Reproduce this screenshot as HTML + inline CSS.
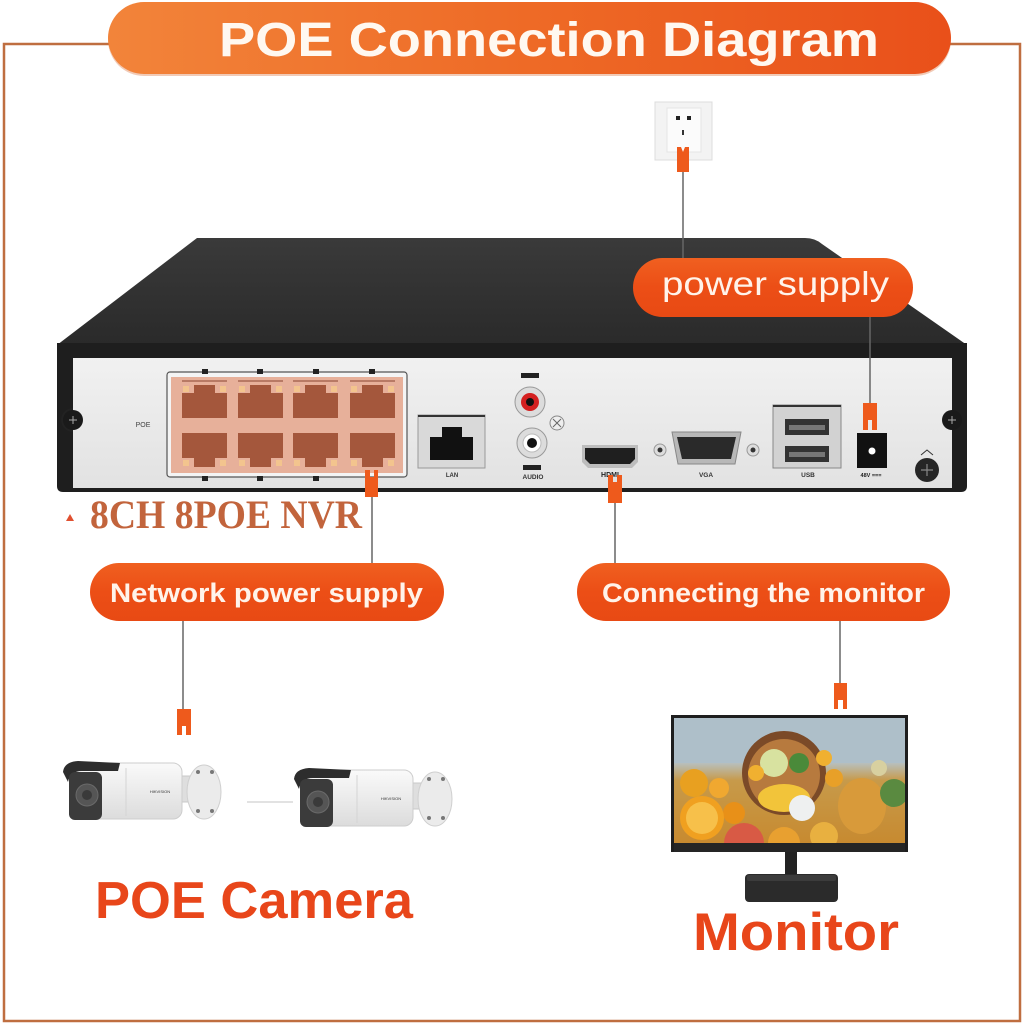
<!DOCTYPE html>
<html><head><meta charset="utf-8"><style>
html,body{margin:0;padding:0;background:#fff;width:1024px;height:1024px;overflow:hidden}
svg{display:block}
</style></head><body>
<svg width="1024" height="1024" viewBox="0 0 1024 1024" xmlns="http://www.w3.org/2000/svg" font-family="'Liberation Sans', sans-serif">
<defs>
<linearGradient id="tg" x1="0" x2="1" y1="0" y2="0"><stop offset="0" stop-color="#f2843a"/><stop offset="0.5" stop-color="#ee6a26"/><stop offset="1" stop-color="#e9501a"/></linearGradient>
<linearGradient id="pg" x1="0" x2="0" y1="0" y2="1"><stop offset="0" stop-color="#f06020"/><stop offset="0.5" stop-color="#ec4e16"/><stop offset="1" stop-color="#e84a14"/></linearGradient>
<linearGradient id="topg" x1="0" x2="0" y1="0" y2="1"><stop offset="0" stop-color="#3a3a3a"/><stop offset="1" stop-color="#2a2a2a"/></linearGradient>
<linearGradient id="panel" x1="0" x2="0" y1="0" y2="1"><stop offset="0" stop-color="#f1f1f1"/><stop offset="1" stop-color="#e2e2e2"/></linearGradient>
<linearGradient id="scr" x1="0" x2="0" y1="0" y2="1"><stop offset="0" stop-color="#a9bcc8"/><stop offset="0.35" stop-color="#b6c2c6"/><stop offset="0.5" stop-color="#c79a4a"/><stop offset="1" stop-color="#c78a30"/></linearGradient>
<linearGradient id="cam" x1="0" x2="0" y1="0" y2="1"><stop offset="0" stop-color="#fafafa"/><stop offset="1" stop-color="#dcdcdc"/></linearGradient>
</defs>

<!-- border -->
<rect x="4" y="44" width="1016" height="977" fill="none" stroke="#bf6e40" stroke-width="2.5"/>

<!-- title pill -->
<rect x="108" y="4" width="843" height="72" rx="36" fill="#d8682e" opacity="0.35"/>
<rect x="108" y="2" width="843" height="72" rx="36" fill="url(#tg)"/>
<text x="219" y="56" font-size="48" font-weight="bold" fill="#fff8f0" textLength="660" lengthAdjust="spacingAndGlyphs">POE Connection Diagram</text>

<!-- outlet -->
<rect x="655" y="102" width="57" height="58" fill="#f3f3f3" stroke="#dcdcdc"/>
<rect x="667" y="108" width="34" height="44" fill="#fbfbfb" stroke="#e4e4e4"/>
<rect x="676" y="116" width="4" height="4" fill="#222"/>
<rect x="687" y="116" width="4" height="4" fill="#222"/>
<rect x="682" y="130" width="2" height="5" fill="#333"/>
<line x1="683" y1="172" x2="683" y2="258" stroke="#666" stroke-width="1.5"/>
<path d="M677 147 L681 147 L683 152 L685 147 L689 147 L689 172 L677 172 Z" fill="#ee5a1c"/>

<!-- NVR top -->
<path d="M197 238 L805 238 Q815 238 822 244 L967 345 L57 345 Z" fill="url(#topg)"/>
<!-- front frame -->
<path d="M57 343 L967 343 L967 486 Q967 492 961 492 L63 492 Q57 492 57 486 Z" fill="#1e1e1e"/>
<rect x="73" y="358" width="879" height="130" fill="url(#panel)"/>
<!-- screws -->
<path d="M73 408 A12 12 0 0 0 73 432 Z" fill="#222"/>
<circle cx="73" cy="420" r="10" fill="#1a1a1a"/>
<path d="M69 420 H77 M73 416 V424" stroke="#aaa" stroke-width="1"/>
<circle cx="952" cy="420" r="10" fill="#1a1a1a"/>
<path d="M948 420 H956 M952 416 V424" stroke="#aaa" stroke-width="1"/>

<!-- POE ports -->
<text x="143" y="427" font-size="7" fill="#444" text-anchor="middle">POE</text>
<rect x="167" y="372" width="240" height="105" rx="3" fill="#f4f4f4" stroke="#555" stroke-width="1.2"/>
<rect x="171" y="377" width="232" height="96" fill="#e7b09a"/>
<g fill="#222">
<rect x="202" y="369" width="6" height="5"/><rect x="257" y="369" width="6" height="5"/><rect x="313" y="369" width="6" height="5"/><rect x="369" y="369" width="6" height="5"/>
<rect x="202" y="476" width="6" height="5"/><rect x="257" y="476" width="6" height="5"/><rect x="313" y="476" width="6" height="5"/>
</g>
<g id="ports">
<g fill="#a4573c">
<rect x="182" y="393" width="45" height="25"/><rect x="194" y="385" width="21" height="9"/>
<rect x="238" y="393" width="45" height="25"/><rect x="250" y="385" width="21" height="9"/>
<rect x="293" y="393" width="45" height="25"/><rect x="305" y="385" width="21" height="9"/>
<rect x="350" y="393" width="45" height="25"/><rect x="362" y="385" width="21" height="9"/>
<rect x="182" y="433" width="45" height="25"/><rect x="194" y="457" width="21" height="10"/>
<rect x="238" y="433" width="45" height="25"/><rect x="250" y="457" width="21" height="10"/>
<rect x="293" y="433" width="45" height="25"/><rect x="305" y="457" width="21" height="10"/>
<rect x="350" y="433" width="45" height="25"/><rect x="362" y="457" width="21" height="10"/>
</g>
<g fill="#f3c48e">
<rect x="183" y="386" width="6" height="6"/><rect x="220" y="386" width="6" height="6"/>
<rect x="239" y="386" width="6" height="6"/><rect x="276" y="386" width="6" height="6"/>
<rect x="294" y="386" width="6" height="6"/><rect x="331" y="386" width="6" height="6"/>
<rect x="351" y="386" width="6" height="6"/><rect x="388" y="386" width="6" height="6"/>
<rect x="183" y="460" width="6" height="6"/><rect x="220" y="460" width="6" height="6"/>
<rect x="239" y="460" width="6" height="6"/><rect x="276" y="460" width="6" height="6"/>
<rect x="294" y="460" width="6" height="6"/><rect x="331" y="460" width="6" height="6"/>
<rect x="351" y="460" width="6" height="6"/><rect x="388" y="460" width="6" height="6"/>
</g>
<g stroke="#8a4530" stroke-width="1">
<line x1="182" y1="381" x2="227" y2="381"/><line x1="238" y1="381" x2="283" y2="381"/><line x1="293" y1="381" x2="338" y2="381"/><line x1="350" y1="381" x2="395" y2="381"/>
</g>
</g>

<!-- LAN -->
<rect x="418" y="415" width="67" height="53" fill="#d9d9d9" stroke="#999"/>
<line x1="418" y1="416" x2="485" y2="416" stroke="#333" stroke-width="2"/>
<rect x="430" y="437" width="43" height="23" fill="#111"/>
<rect x="442" y="427" width="20" height="11" fill="#111"/>
<text x="452" y="477" font-size="6" fill="#333" text-anchor="middle" font-weight="bold">LAN</text>

<!-- audio -->
<rect x="521" y="373" width="18" height="5" fill="#222"/>
<circle cx="530" cy="402" r="15" fill="#dcdcdc" stroke="#999"/>
<circle cx="530" cy="402" r="9" fill="#d42020"/>
<circle cx="530" cy="402" r="4" fill="#111"/>
<circle cx="557" cy="423" r="7" fill="#eee" stroke="#888"/>
<path d="M553 419 L561 427 M561 419 L553 427" stroke="#666" stroke-width="1"/>
<circle cx="532" cy="443" r="15" fill="#dcdcdc" stroke="#999"/>
<circle cx="532" cy="443" r="9" fill="#fff" stroke="#bbb"/>
<circle cx="532" cy="443" r="5" fill="#111"/>
<rect x="523" y="465" width="18" height="5" fill="#222"/>
<text x="533" y="479" font-size="6.5" fill="#333" text-anchor="middle" font-weight="bold">AUDIO</text>

<!-- HDMI -->
<path d="M582 445 L638 445 L638 462 L632 468 L588 468 L582 462 Z" fill="#bdbdbd"/>
<path d="M585 448 L635 448 L635 459 L630 464 L590 464 L585 459 Z" fill="#1f1f1f"/>
<text x="610" y="477" font-size="7" fill="#222" text-anchor="middle" font-weight="bold">HDMI</text>
<line x1="615" y1="503" x2="615" y2="563" stroke="#666" stroke-width="1.5"/>
<path d="M608 475 L613 475 L613 482 L617 482 L617 475 L622 475 L622 503 L608 503 Z" fill="#ee5a1c"/>

<!-- VGA -->
<circle cx="660" cy="450" r="6" fill="#ddd" stroke="#999"/><circle cx="660" cy="450" r="2.5" fill="#333"/>
<circle cx="753" cy="450" r="6" fill="#ddd" stroke="#999"/><circle cx="753" cy="450" r="2.5" fill="#333"/>
<path d="M672 432 L741 432 L735 464 L678 464 Z" fill="#b8b8b8" stroke="#888"/>
<path d="M677 437 L736 437 L731 459 L682 459 Z" fill="#2a2a2a"/>
<text x="706" y="477" font-size="6.5" fill="#333" text-anchor="middle" font-weight="bold">VGA</text>

<!-- USB -->
<rect x="773" y="405" width="68" height="63" fill="#d2d2d2" stroke="#888"/>
<line x1="773" y1="406" x2="841" y2="406" stroke="#333" stroke-width="2"/>
<rect x="785" y="419" width="44" height="16" fill="#333"/><rect x="789" y="425" width="36" height="5" fill="#777"/>
<rect x="785" y="446" width="44" height="16" fill="#333"/><rect x="789" y="452" width="36" height="5" fill="#777"/>
<text x="808" y="477" font-size="6.5" fill="#333" text-anchor="middle" font-weight="bold">USB</text>

<!-- DC -->
<rect x="857" y="433" width="30" height="35" fill="#111"/>
<circle cx="872" cy="451" r="3.5" fill="#fff"/>
<text x="871" y="477" font-size="5.5" fill="#222" text-anchor="middle" font-weight="bold">48V ===</text>
<line x1="870" y1="317" x2="870" y2="403" stroke="#666" stroke-width="1.5"/>
<path d="M863 403 L877 403 L877 430 L872 430 L872 420 L868 420 L868 430 L863 430 Z" fill="#ee5a1c"/>

<!-- ground -->
<path d="M921 455 L927 450 L933 455" stroke="#333" fill="none" stroke-width="1"/>
<circle cx="927" cy="470" r="12" fill="#262626"/>
<path d="M921 470 H933 M927 464 V476" stroke="#888" stroke-width="1.2"/>

<!-- power supply pill -->
<rect x="633" y="258" width="280" height="59" rx="29.5" fill="url(#pg)"/>
<text x="662" y="295" font-size="33" fill="#fff3ea" textLength="227" lengthAdjust="spacingAndGlyphs">power supply</text>
<line x1="683" y1="238" x2="683" y2="258" stroke="#666" stroke-width="1.5"/>

<!-- 8CH label -->
<path d="M66 521 L70 514 L74 521 Z" fill="#e05030"/>
<text x="90" y="528" font-family="'Liberation Serif', serif" font-size="40" font-weight="bold" fill="#c2643c" textLength="272" lengthAdjust="spacingAndGlyphs">8CH 8POE NVR</text>

<!-- POE plug & line -->
<line x1="372" y1="497" x2="372" y2="563" stroke="#666" stroke-width="1.5"/>
<path d="M365 470 L370 470 L370 477 L374 477 L374 470 L378 470 L378 497 L365 497 Z" fill="#ee5a1c"/>

<!-- Network pill -->
<rect x="90" y="563" width="354" height="58" rx="29" fill="url(#pg)"/>
<text x="110" y="602" font-size="27" font-weight="bold" fill="#fff3ea" textLength="313" lengthAdjust="spacingAndGlyphs">Network power supply</text>
<line x1="183" y1="621" x2="183" y2="709" stroke="#666" stroke-width="1.5"/>
<path d="M177 709 L191 709 L191 735 L186 735 L186 726 L182 726 L182 735 L177 735 Z" fill="#ee5a1c"/>

<!-- Connecting pill -->
<rect x="577" y="563" width="373" height="58" rx="29" fill="url(#pg)"/>
<text x="602" y="602" font-size="27" font-weight="bold" fill="#fff3ea" textLength="323" lengthAdjust="spacingAndGlyphs">Connecting the monitor</text>
<line x1="840" y1="621" x2="840" y2="683" stroke="#666" stroke-width="1.5"/>
<path d="M834 683 L847 683 L847 709 L843 709 L843 700 L838 700 L838 709 L834 709 Z" fill="#ee5a1c"/>

<!-- cameras -->
<g id="cam1">
<rect x="182" y="776" width="14" height="26" fill="#dedede" stroke="#c8c8c8"/>
<ellipse cx="204" cy="792" rx="17" ry="27" fill="#ebebeb" stroke="#cfcfcf"/>
<circle cx="198" cy="772" r="2" fill="#777"/><circle cx="212" cy="772" r="2" fill="#777"/>
<circle cx="198" cy="811" r="2" fill="#777"/><circle cx="212" cy="811" r="2" fill="#777"/>
<rect x="70" y="763" width="112" height="56" rx="9" fill="url(#cam)" stroke="#cdcdcd"/>
<line x1="126" y1="768" x2="126" y2="816" stroke="#d4d4d4"/>
<path d="M63 772 Q64 762 78 761 L120 763 L118 771 L82 771 Q70 771 68 782 Z" fill="#2d2d2d"/>
<rect x="69" y="772" width="33" height="48" rx="6" fill="#3b3b3b"/>
<circle cx="87" cy="795" r="11" fill="#555" stroke="#6a6a6a"/>
<circle cx="87" cy="795" r="5" fill="#3a3a3a"/>
<text x="160" y="793" font-size="4" fill="#333" text-anchor="middle">HIKVISION</text>
</g>
<line x1="247" y1="802" x2="293" y2="802" stroke="#c4c4c4" stroke-width="1"/>
<g transform="translate(231 7)">
<rect x="182" y="776" width="14" height="26" fill="#dedede" stroke="#c8c8c8"/>
<ellipse cx="204" cy="792" rx="17" ry="27" fill="#ebebeb" stroke="#cfcfcf"/>
<circle cx="198" cy="772" r="2" fill="#777"/><circle cx="212" cy="772" r="2" fill="#777"/>
<circle cx="198" cy="811" r="2" fill="#777"/><circle cx="212" cy="811" r="2" fill="#777"/>
<rect x="70" y="763" width="112" height="56" rx="9" fill="url(#cam)" stroke="#cdcdcd"/>
<line x1="126" y1="768" x2="126" y2="816" stroke="#d4d4d4"/>
<path d="M63 772 Q64 762 78 761 L120 763 L118 771 L82 771 Q70 771 68 782 Z" fill="#2d2d2d"/>
<rect x="69" y="772" width="33" height="48" rx="6" fill="#3b3b3b"/>
<circle cx="87" cy="795" r="11" fill="#555" stroke="#6a6a6a"/>
<circle cx="87" cy="795" r="5" fill="#3a3a3a"/>
<text x="160" y="793" font-size="4" fill="#333" text-anchor="middle">HIKVISION</text>
</g>

<!-- monitor -->
<rect x="785" y="850" width="12" height="28" fill="#222"/>
<rect x="745" y="874" width="93" height="28" rx="4" fill="#2b2b2b"/>
<rect x="747" y="875" width="89" height="6" rx="2" fill="#3c3c3c"/>
<rect x="671" y="715" width="237" height="137" fill="#1e1e1e"/>
<svg x="674" y="718" width="231" height="125" viewBox="0 0 231 125">
<rect width="231" height="125" fill="url(#scr)"/>
<rect y="0" width="231" height="45" fill="#aebfc9"/>
<circle cx="110" cy="55" r="42" fill="#7b4a28"/>
<circle cx="110" cy="57" r="36" fill="#b77a3e"/>
<circle cx="100" cy="45" r="14" fill="#d8e2a0"/>
<circle cx="125" cy="45" r="10" fill="#4a8a3a"/>
<ellipse cx="110" cy="80" rx="26" ry="14" fill="#f2c43a"/>
<circle cx="128" cy="90" r="13" fill="#eef0f0"/>
<circle cx="20" cy="65" r="14" fill="#e8a020"/>
<circle cx="45" cy="70" r="10" fill="#f0a830"/>
<circle cx="60" cy="95" r="11" fill="#e89018"/>
<circle cx="28" cy="100" r="22" fill="#f0a020"/>
<circle cx="28" cy="100" r="16" fill="#f7c04a"/>
<circle cx="70" cy="125" r="20" fill="#d85a45"/>
<circle cx="110" cy="125" r="16" fill="#e8a030"/>
<circle cx="82" cy="55" r="8" fill="#f0b030"/>
<circle cx="150" cy="40" r="8" fill="#f0b030"/>
<circle cx="160" cy="60" r="9" fill="#e8a028"/>
<ellipse cx="188" cy="88" rx="24" ry="28" fill="#d89a3a"/>
<circle cx="220" cy="75" r="14" fill="#5a8a40"/>
<circle cx="205" cy="50" r="8" fill="#d8d0a0"/>
<circle cx="150" cy="118" r="14" fill="#e8b040"/>
</svg>
<rect x="674" y="843" width="231" height="9" fill="#252525"/>

<!-- bottom labels -->
<text x="95" y="918" font-size="52" font-weight="bold" fill="#e8461a" textLength="318" lengthAdjust="spacingAndGlyphs">POE Camera</text>
<text x="693" y="950" font-size="53" font-weight="bold" fill="#e8461a" textLength="206" lengthAdjust="spacingAndGlyphs">Monitor</text>
</svg>
</body></html>
